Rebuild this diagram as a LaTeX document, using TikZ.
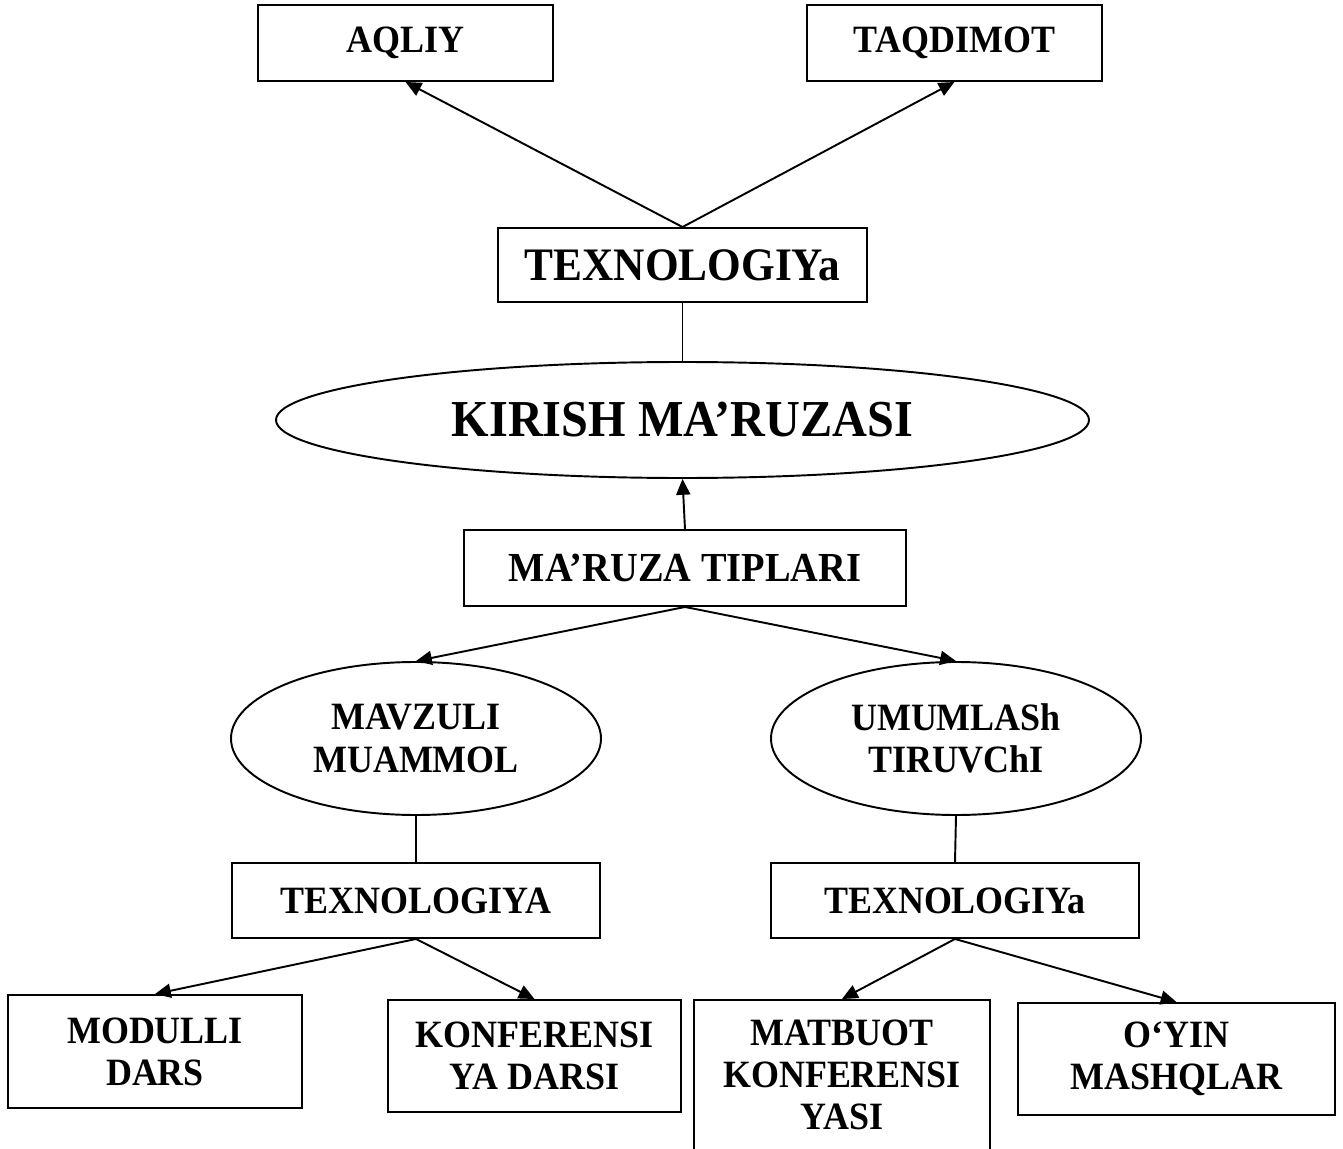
\documentclass[tikz,border=0pt]{standalone}
\usepackage{fontspec}
\setmainfont{Liberation Serif}[FakeStretch=0.93]
\usetikzlibrary{shapes.geometric,arrows.meta}

\begin{document}
\begin{tikzpicture}[
        box/.style={draw, line width=1.1pt, inner sep=0pt, align=center, font=\fontsize{22}{24}\selectfont\bfseries},
        oval/.style={box, ellipse},
        arr/.style={line width=1.1pt, -{Triangle[length=9pt,width=8pt]}},
        link/.style={line width=1.1pt}
    ]
        %\draw[gray] (0,0) grid (27,-23);
        \useasboundingbox (0,0) rectangle (26.86,-22.98);

        \node[box, minimum width=5.9cm, minimum height=1.52cm] (aqliy) at (8.11,-0.86) {AQLIY};
        \node[box, minimum width=5.9cm, minimum height=1.52cm] (taqdimot) at (19.09,-0.86) {TAQDIMOT};
        \node[box, minimum width=7.38cm, minimum height=1.48cm, font=\fontsize{26.5}{28}\selectfont\bfseries] (texno) at (13.65,-5.3) {TEXNOLOGIYa};
        \node[oval, minimum width=16.26cm, minimum height=2.32cm, font=\fontsize{29.5}{31}\selectfont\bfseries] (kirish) at (13.65,-8.4) {KIRISH MA’RUZASI};
        \node[box, minimum width=8.84cm, minimum height=1.52cm, font=\fontsize{23.5}{25}\selectfont\bfseries] (tiplar) at (13.7,-11.36) {MA’RUZA TIPLARI};

        \node[oval, minimum width=7.4cm, minimum height=3.06cm] (mavzu) at (8.32,-14.77) {MAVZULI\\MUAMMOL};
        \node[oval, minimum width=7.4cm, minimum height=3.06cm] (umum) at (19.12,-14.77) {UMUMLASh\\TIRUVChI};
        \node[box, minimum width=7.36cm, minimum height=1.5cm] (texl) at (8.32,-18.01) {TEXNOLOGIYA};
        \node[box, minimum width=7.36cm, minimum height=1.5cm] (texr) at (19.1,-18.01) {TEXNOLOGIYa};

        \node[box, minimum width=5.88cm, minimum height=2.26cm] (modul) at (3.1,-21.03) {MODULLI\\DARS};
        \node[box, minimum width=5.86cm, minimum height=2.24cm] (konf) at (10.69,-21.12) {KONFERENSI\\YA DARSI};
        \node[box, minimum width=5.92cm, minimum height=3cm] (matb) at (16.84,-21.5) {MATBUOT\\KONFERENSI\\YASI};
        \node[box, minimum width=6.34cm, minimum height=2.24cm] (oyin) at (23.53,-21.18) {O‘YIN\\MASHQLAR};

        \draw[arr] (texno.north) -- (aqliy.south);
        \draw[arr] (texno.north) -- (taqdimot.south);
        \draw[link] (texno.south) -- (kirish.north);
        \draw[arr] (tiplar.north) -- (kirish.south);
        \draw[arr] (tiplar.south) -- (mavzu.north);
        \draw[arr] (tiplar.south) -- (umum.north);
        \draw[link] (mavzu.south) -- (texl.north);
        \draw[link] (umum.south) -- (texr.north);
        \draw[arr] (texl.south) -- (modul.north);
        \draw[arr] (texl.south) -- (konf.north);
        \draw[arr] (texr.south) -- (matb.north);
        \draw[arr] (texr.south) -- (oyin.north);
    \end{tikzpicture}
\end{document}
